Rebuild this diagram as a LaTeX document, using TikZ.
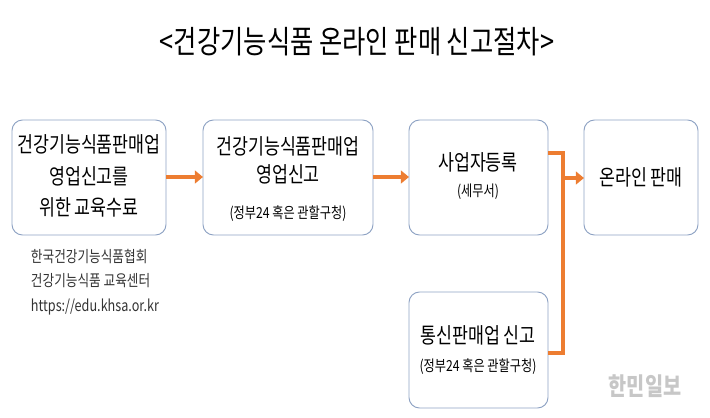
\documentclass[tikz,border=0pt]{standalone}
\usepackage{fontspec}
\setmainfont[FakeStretch=0.8]{Noto Sans CJK KR}
\usetikzlibrary{arrows.meta}
\definecolor{boxline}{RGB}{143,163,196}
\definecolor{flow}{RGB}{237,125,49}
\begin{document}
\begin{tikzpicture}[x=0.03cm,y=-0.03cm]
    \tikzstyle{stepbox}=[draw=boxline,line width=0.8pt,rounded corners=9pt,fill=white]
    \tikzstyle{flowline}=[draw=flow,line width=3.5pt]
    \tikzstyle{flowarrow}=[flowline,-{Triangle[length=7pt,width=11pt]}]
    \tikzstyle{big}=[font=\fontsize{18.5}{27}\selectfont,align=center]
    \tikzstyle{small}=[font=\fontsize{13}{14}\selectfont]
    \useasboundingbox (0,0) rectangle (710,417);

    % title
    \node[font=\fontsize{27}{30}\selectfont] (title) at (357,42) {<건강기능식품 온라인 판매 신고절차>};

    % boxes
    \draw[stepbox] (12,120) rectangle (166,235);
    \draw[stepbox] (203,120) rectangle (373,235);
    \draw[stepbox] (409,120) rectangle (548,235);
    \draw[stepbox] (584,120) rectangle (698,235);
    \draw[stepbox] (409,292) rectangle (548,408);
    \coordinate (B1e) at (166,177);
    \coordinate (B2w) at (203,177);
    \coordinate (B2e) at (373,177);
    \coordinate (B3w) at (409,177);
    \coordinate (B3e) at (548,153);
    \coordinate (B5e) at (548,353);
    \coordinate (J) at (563,178);
    \coordinate (B4w) at (584,178);

    % texts
    \node[big] (t1) at (89,176) {건강기능식품판매업\\영업신고를\\위한 교육수료};
    \node[big,font=\fontsize{18.5}{24}\selectfont] (t2) at (288,160) {건강기능식품판매업\\영업신고};
    \node[small] (s2) at (288,214) {(정부24 혹은 관할구청)};
    \node[big] (t3) at (478,162) {사업자등록};
    \node[small] (s3) at (478,192) {(세무서)};
    \node[big] (t4) at (641,177) {온라인 판매};
    \node[big] (t5) at (478,335) {통신판매업 신고};
    \node[small] (s5) at (478,367) {(정부24 혹은 관할구청)};
    \node[font=\fontsize{13.5}{21}\selectfont,align=left,text=black!80] (note) at (95,282)
        {한국건강기능식품협회\\건강기능식품 교육센터\\https://edu.khsa.or.kr};
    \node[font=\bfseries\fontsize{21}{24}\selectfont,text=black!22] (mark) at (645,386) {한민일보};

    % connectors
    \draw[flowarrow] (B1e) -- (B2w);
    \draw[flowarrow] (B2e) -- (B3w);
    \draw[flowline] (B3e) -| (J);
    \draw[flowline] (B5e) -| (J);
    \draw[flowarrow] (J) -- (B4w);
\end{tikzpicture}
\end{document}
